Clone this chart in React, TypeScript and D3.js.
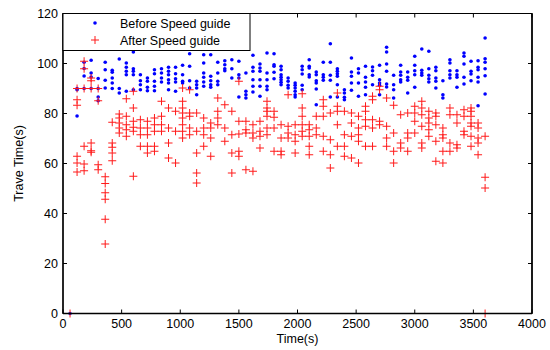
import React from 'react';
import * as d3 from 'd3';

// sample times (s), one column of readings every 60 s
const colTimes = [
  120, 180, 240, 300, 360, 420, 480, 540, 600, 660, 720, 780, 840, 900, 960,
  1020, 1080, 1140, 1200, 1260, 1320, 1380, 1440, 1500, 1560, 1620, 1680, 1740,
  1800, 1860, 1920, 1980, 2040, 2100, 2160, 2220, 2280, 2340, 2400, 2460, 2520,
  2580, 2640, 2700, 2760, 2820, 2880, 2940, 3000, 3060, 3120, 3180, 3240, 3300,
  3360, 3420, 3480, 3540, 3600,
];

// travel times before the speed guide, one list per column
const beforeCols = [
  [90, 89.5, 79], [100.5, 98, 95, 90], [101.3, 96.2, 94.6, 90], [94, 90, 86.6, 85.1],
  [100.5, 97.5, 93.3, 90.2], [97.3, 96.5, 94.2, 92.2, 90], [101.8, 90, 88.2],
  [100.2, 98.5, 96.9, 95.5, 88.9], [104.6, 97.9, 96.9, 95.5, 89.5], [95.5, 93.1, 91.5, 89.5],
  [94.2, 92.9, 90.5, 89.1], [97.5, 95.9, 92.9, 90.9, 89.1], [97.9, 96.2, 94.2, 92.6],
  [98.5, 96.9, 95.5, 93.5, 92.2, 89.5], [98.5, 95.9, 93.9, 92.6, 88.9], [99.3, 95.5, 92.9, 92.2],
  [103.9, 98.9, 93.1, 90.2], [92.9, 91.5, 90.2, 87.5], [103.5, 100.2, 96.2, 94.5, 92.6, 90.9],
  [103.5, 94.9, 93.1, 91.5, 90.5], [100.5, 96.2, 92.9, 91.5], [101.1, 99.5, 97.9, 97.1],
  [101.5, 97.9, 94.2], [100.9, 95.5, 94.2, 86.6], [96.2, 88.9, 87.5, 86.2],
  [103.3, 98.5, 96.9, 93.5, 90.9, 88.6], [99.8, 98.2, 96.9, 93.5, 90.9, 86.9],
  [104.2, 96.2, 93.5, 90.9, 89.5], [103.9, 99.5, 98.9, 96.5, 93.9],
  [98.9, 97.5, 95.5, 94.5, 93.5, 92.5, 91.5], [94.2, 92.9, 91.3, 90.2],
  [92.2, 91.3, 90.2, 88.9, 87.5, 86.6], [98.9, 97.5, 95.8, 91.3, 89.5],
  [101.5, 98.9, 98.2, 95.5, 94.6], [96.6, 95.5, 93.1, 92.2, 89.8, 83.5],
  [100.5, 95.5, 94.5, 93.3], [107.9, 100.5, 95.3, 93.3, 86.6],
  [97.9, 96.9, 95.9, 94.9, 91.5, 86.6], [89.5, 88.2, 86.5, 85.5],
  [102.2, 96.6, 94.9, 92.2, 89.3], [97.9, 96.2, 92.2, 86.9], [98.9, 94.5, 92.6, 90.5, 87.5],
  [98.6, 97.1, 95.3, 91.5], [99.3, 93.5, 92.2, 91.3, 87.5], [106.5, 104.6, 99.8, 96.9, 91.8, 90.6],
  [95.3, 91.5, 89.5, 86.2], [99.3, 96.6, 95.3, 93.5, 92.6], [96.6, 94.5, 93.3, 88.2],
  [102.9, 99.3, 97.1, 95.5, 90.5], [105.8, 97.3, 96.2, 95.3], [104.9, 97.9, 95.3, 93.9, 92.6],
  [98.5, 97.1, 94.2, 92.9, 90.2], [93.1, 87.5, 86.2], [101.5, 100.2, 97.1, 95.5, 94.2],
  [97.1, 95.5, 94.5, 90.5], [104.2, 102.9, 99.8, 94.5, 91.8], [100.9, 96.9, 95.8, 93.1],
  [101.1, 98.5, 97.5, 94.5, 92.6, 83.1], [110.2, 101.9, 100.5, 97.9, 95.1, 87.8],
];

// travel times after the speed guide, one list per column
const afterCols = [
  [90, 85.5, 83.3, 62.9, 60.2, 56.6], [100.9, 97.9, 90, 66.9, 59.8, 57.1],
  [94.2, 93.1, 90, 68.2, 65.1, 64.5], [90, 85.1, 59.5, 57.5], [54.7, 52, 48.3, 45.7, 37.7, 27.8],
  [76.5, 68.2, 66.5, 64.2, 61.1], [79.8, 78.2, 76.2, 74.2, 72.2], [85.9, 78.9, 75.5, 73.5, 70.9],
  [88.9, 82.2, 76.9, 74.5, 72.9, 54.9], [77.5, 74.2, 71.5, 66.9], [76.9, 74.2, 71.5, 66.9, 64.2],
  [78.2, 75.5, 72.9, 66.9, 64.9], [84.9, 78.9, 75.5, 72.9], [82.2, 74.2, 68.2, 62.2],
  [80.9, 72.9, 60.2], [90.2, 84.9, 82.2, 80.2, 78.2, 75.5, 72.9, 70.2],
  [89.5, 80.2, 78.9, 74.2, 71.5], [80.2, 72.9, 64.2, 56.2, 52.2], [78.2, 74.2, 71.5, 66.9],
  [76.2, 74.2, 70.2, 62.9], [86.2, 80.9, 78.2, 75.5], [83.5, 74.2, 68.9], [80.9, 71.5, 64.2, 56.2],
  [92.9, 76.9, 71.8, 64.9, 62.9], [76.9, 73.5, 72.2, 57.5], [75.5, 72.2, 70.2, 56.9],
  [76.9, 72.9, 70.9, 66.2], [84.9, 82.2, 80.9, 78.9, 74.2, 71.5], [80.9, 78.5, 74.2, 64.9],
  [75.5, 70.2, 64.9, 63.5], [87.5, 74.9, 72.2, 70.2], [75.5, 71.5, 68.9, 64.2],
  [87.9, 82.2, 78.9, 75.5, 72.9, 70.9], [75.5, 73.5, 70.9, 66.9, 63.5], [78.9, 74.2, 71.5],
  [85.5, 82.9, 78.9, 70.9, 64.9], [80.2, 69.5, 63.5, 58.2], [88.2, 82.9, 80.9, 75.5, 66.9],
  [80.9, 71.5, 66.9, 62.9], [80.2, 76.2, 70.9, 62.2], [78.9, 74.2, 71.5, 68.9, 60.2],
  [82.9, 80.9, 77.5, 74.9, 66.9], [86.9, 85.5, 77.5, 74.2, 66.9], [90.9, 89.5, 76.9, 75.5],
  [86.2, 74.9, 70.2, 66.9], [83.3, 72.2, 64.9, 60.2], [79.5, 68.2, 66.2], [80.2, 72.2, 70.2, 64.9],
  [82.9, 80.2, 76.9, 72.2], [84.9, 82.2, 79.5, 74.9, 68.2, 66.2], [80.9, 78.2, 76.2, 73.5, 70.9],
  [80.2, 78.9, 75.5, 68.9, 60.9], [74.2, 71.5, 70.2, 64.9, 60.2], [82.2, 79.5, 68.2, 64.9],
  [79.5, 76.2, 67.5, 66.2], [81.5, 78.9, 72.9, 71.5], [82.2, 80.9, 78.9, 76.2, 74.9, 70.9, 66.9],
  [76.2, 74.2, 70.2, 68.2, 63.5], [70.9, 54.5, 50.2, 0],
];

// zero readings at the very start
const beforeExtra = [[60, 0]];
const afterExtra = [[60, 0]];

const xTicks = [0, 500, 1000, 1500, 2000, 2500, 3000, 3500, 4000];
const yTicks = [0, 20, 40, 60, 80, 100, 120];

const flatten = (cols: number[][], extra: number[][]) => {
  const pts: number[][] = extra.slice();
  cols.forEach((vals, i) => vals.forEach(v => pts.push([colTimes[i], v])));
  return pts;
};

const App = () => {
  const width = 550;
  const height = 350;
  const margin = { top: 13.5, right: 18, bottom: 36.5, left: 63 };

  const x = d3.scaleLinear().domain([0, 4000]).range([margin.left, width - margin.right]);
  const y = d3.scaleLinear().domain([0, 120]).range([height - margin.bottom, margin.top]);

  const before = flatten(beforeCols, beforeExtra);
  const after = flatten(afterCols, afterExtra);

  const font = { fontFamily: '"Liberation Sans", Arial, sans-serif', fontSize: 12.5 };
  const x0 = x(0), x1 = x(4000), y0 = y(0), y1 = y(120);
  const tl = 4;
  const plus = (cx: number, cy: number, k: string) => (
    <path key={k} d={`M${cx - 4},${cy}H${cx + 4}M${cx},${cy - 4}V${cy + 4}`}
      stroke="#ff1a1a" strokeWidth={1} fill="none" />
  );

  return (
    <svg width={width} height={height} style={{ position: 'absolute', left: 0, top: 0, background: '#fff' }}>
      {/* points */}
      {before.map((d, i) => (
        <circle key={'b' + i} cx={x(d[0])} cy={y(d[1])} r={1.8} fill="#0000ff" />
      ))}
      {after.map((d, i) => plus(x(d[0]), y(d[1]), 'a' + i))}

      {/* box */}
      <rect x={x0} y={y1} width={x1 - x0} height={y0 - y1} fill="none" stroke="#000" strokeWidth={1} />
      <line x1={x1} y1={y1} x2={x1} y2={y0} stroke="#000" strokeWidth={1.6} />
      <line x1={x0} y1={y1} x2={x0} y2={y0} stroke="#000" strokeWidth={1.4} />
      <line x1={x0} y1={y0} x2={x1} y2={y0} stroke="#000" strokeWidth={1.4} />

      {/* ticks, pointing inward */}
      {xTicks.map(t => (
        <g key={'xt' + t}>
          <line x1={x(t)} x2={x(t)} y1={y0} y2={y0 - tl} stroke="#000" />
          <line x1={x(t)} x2={x(t)} y1={y1} y2={y1 + tl} stroke="#000" />
          <text x={x(t)} y={y0 + 14} textAnchor="middle" style={font} fill="#000">{t}</text>
        </g>
      ))}
      {yTicks.map(t => (
        <g key={'yt' + t}>
          <line x1={x0} x2={x0 + tl} y1={y(t)} y2={y(t)} stroke="#000" />
          <line x1={x1} x2={x1 - tl} y1={y(t)} y2={y(t)} stroke="#000" />
          <text x={x0 - 5} y={y(t)} dy="0.35em" textAnchor="end" style={font} fill="#000">{t}</text>
        </g>
      ))}

      {/* axis labels */}
      <text x={(x0 + x1) / 2} y={343} textAnchor="middle" style={font} fill="#000">Time(s)</text>
      <text transform={`translate(23,${(y0 + y1) / 2}) rotate(-90)`} textAnchor="middle" style={font} fill="#000">
        Trave Time(s)
      </text>

      {/* legend */}
      <rect x={x0} y={y1} width={187} height={37} fill="#fff" stroke="#000" strokeWidth={1} />
      <circle cx={95} cy={23} r={1.8} fill="#0000ff" />
      {plus(95, 40, 'leg')}
      <text x={120} y={28} style={font} fill="#000">Before Speed guide</text>
      <text x={120} y={45} style={font} fill="#000">After Speed guide</text>
    </svg>
  );
};

export default App;
